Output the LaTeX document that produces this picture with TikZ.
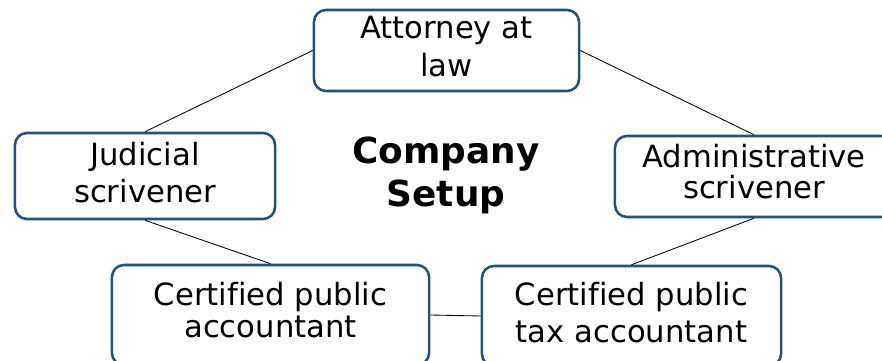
\documentclass[tikz,border=0pt]{standalone}
\usepackage{fontspec}
\setmainfont[Ligatures=NoCommon]{DejaVu Sans}
\usetikzlibrary{shapes}

\definecolor{boxblue}{HTML}{24527E}

\begin{document}
\begin{tikzpicture}[x=0.025cm, y=-0.025cm]

% profession style
\tikzstyle{pro} = [
    draw = boxblue,
    line width = 1.8pt,
    fill = white,
    rectangle,
    rounded corners = 0.3cm,
    align = center,
    inner sep = 0pt,
    text depth = 5.7pt
]

% connector style
\tikzstyle{link} = [
    draw,
    line width = 0.6pt
]

\useasboundingbox (0,0) rectangle (882,361);
\clip (0,0) rectangle (882,361);

% Place the nodes.
\node [pro, minimum width=6.625cm, minimum height=2.025cm,
    font=\fontsize{21.8}{26.9}\selectfont] (attorney) at (446.5,50.5) {Attorney at\\law};
\node [pro, minimum width=6.5cm, minimum height=2.15cm,
    font=\fontsize{21.8}{26.2}\selectfont] (judicial) at (145,176) {Judicial\\scrivener};
\node [pro, minimum width=6.95cm, minimum height=2.025cm, text depth=7.8pt,
    font=\fontsize{21.8}{22}\selectfont] (admin) at (754,176.5) {Administrative\\scrivener};
\node [pro, minimum width=7.925cm, minimum height=2.5cm, text depth=7.8pt,
    font=\fontsize{21.8}{22.7}\selectfont] (cpa) at (270.5,315) {Certified public\\accountant};
\node [pro, minimum width=7.475cm, minimum height=2.5cm,
    font=\fontsize{21.8}{26.2}\selectfont] (cpta) at (631.5,316) {Certified public\\tax accountant};

\node [align=center, font=\fontsize{25.5}{30.5}\bfseries\selectfont] (setup) at (446,175.5) {Company\\Setup};

% Connect the nodes.
\draw [link] (attorney.west) -- (judicial.north);
\draw [link] (attorney.east) -- (admin.north);
\draw [link] (judicial.south) -- (cpa.north);
\draw [link] (admin.south) -- (cpta.north);
\draw [link] (cpa.east) -- (cpta.west);

\end{tikzpicture}
\end{document}
